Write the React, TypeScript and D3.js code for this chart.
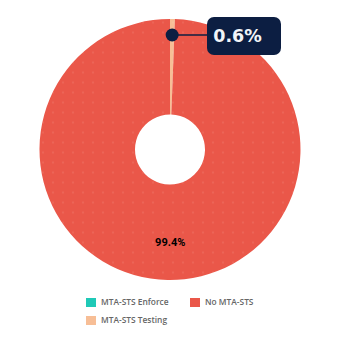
import React from "react";
import * as d3 from "d3";

const categories = ["MTA-STS Testing", "No MTA-STS", "MTA-STS Enforce"];
const values = [0.6, 99.4, 0.0];
const colors = ["#F7BE96", "#EA5749", "#1FC9B7"];
const legendOrder = ["MTA-STS Enforce", "No MTA-STS", "MTA-STS Testing"];
const highlightLabel = "0.6%";
const mainLabel = "99.4%";

export default function App() {
  const W = 340, H = 344;
  const cx = 170, cy = 149.5, R = 130.5, r = 35;
  const data = categories.map((c, i) => ({ c, v: values[i], col: colors[i] }));
  const pie = d3.pie<any>().value((d) => d.v).sort(null);
  const arcs = pie(data);
  const arcGen = d3.arc<any>().innerRadius(r).outerRadius(R);
  const testArc = arcs[0];
  const mainArc = arcs[1];
  const dotAngle = (testArc.startAngle + testArc.endAngle) / 2;
  const dx = Math.sin(dotAngle) * (R - 16);
  const dy = -Math.cos(dotAngle) * (R - 16);
  const labelArc = d3.arc<any>().innerRadius(R * 0.72).outerRadius(R * 0.72);
  const [lx, ly] = labelArc.centroid(mainArc);
  const colorOf = (c: string) => colors[categories.indexOf(c)];
  const legendPos = [
    { x: 86, y: 298 },
    { x: 190, y: 298 },
    { x: 86, y: 316 },
  ];
  return (
    <svg width={W} height={H} style={{ position: "absolute", left: 0, top: 0 }}>
      <defs>
        <pattern id="dots" width="10" height="10" patternUnits="userSpaceOnUse">
          <circle cx="3" cy="3" r="0.8" fill="#FFFFFF" opacity="0.18" />
        </pattern>
      </defs>
      <g transform={`translate(${cx},${cy})`}>
        {arcs.map((a, i) => (
          <g key={i}>
            <path d={arcGen(a) || ""} fill={a.data.col} />
            {a.data.v > 0 && <path d={arcGen(a) || ""} fill="url(#dots)" />}
          </g>
        ))}
        <text x={lx + 2} y={ly} textAnchor="middle" dominantBaseline="middle"
          fontFamily="Roboto, Arial, sans-serif" fontWeight="bold" fontSize="11" fill="#000">
          {mainLabel}
        </text>
        <line x1={dx} y1={dy} x2={37} y2={dy} stroke="#0C1E42" strokeWidth="1.5" />
        <circle cx={dx} cy={dy} r="6.5" fill="#0C1E42" />
      </g>
      <rect x={207} y={17} width={74} height={38} rx={7} fill="#0C1E42" />
      <text x={237.5} y={36.5} textAnchor="middle" dominantBaseline="middle"
        fontFamily="'DejaVu Sans', sans-serif" fontWeight="bold" fontSize="17.5" fill="#F2F4F8">
        {highlightLabel}
      </text>
      {legendOrder.map((c, i) => (
        <g key={c} transform={`translate(${legendPos[i].x},${legendPos[i].y})`}>
          <rect x={0} y={0} width={10} height={9} fill={colorOf(c)} />
          <text x={15} y={5} dominantBaseline="middle" fontFamily="'Open Sans', Arial, sans-serif"
            fontSize="8.4" fill="#666" fontWeight="600">
            {c}
          </text>
        </g>
      ))}
    </svg>
  );
}
